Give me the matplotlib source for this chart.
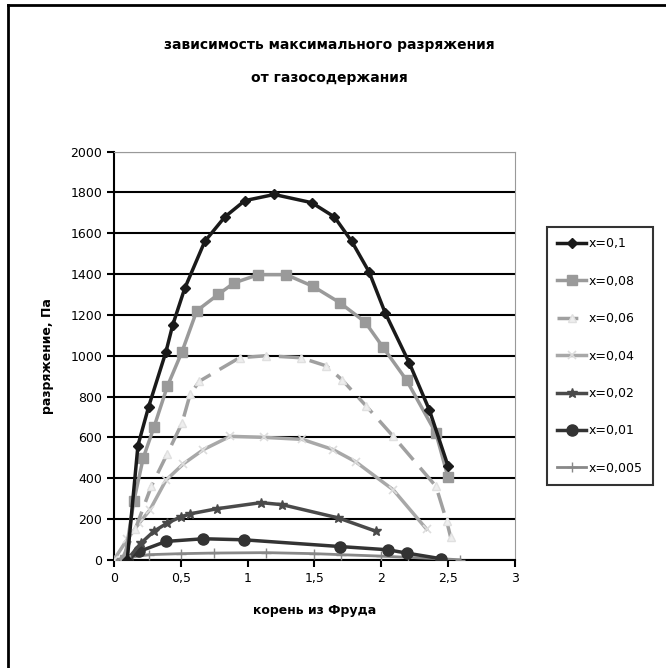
import matplotlib.pyplot as plt
from matplotlib.lines import Line2D

# data: x = корень из Фруда, y = разряжение
x_01 = [0.1, 0.18, 0.26, 0.39, 0.44, 0.53, 0.68, 0.83, 0.98, 1.2, 1.48, 1.65, 1.78, 1.91, 2.03, 2.21, 2.36, 2.5]
y_01 = [0, 560, 750, 1020, 1150, 1330, 1560, 1680, 1760, 1790, 1750, 1680, 1560, 1410, 1210, 965, 735, 460]

x_008 = [0.08, 0.15, 0.22, 0.3, 0.4, 0.51, 0.62, 0.78, 0.9, 1.08, 1.29, 1.49, 1.69, 1.88, 2.01, 2.19, 2.41, 2.5]
y_008 = [0, 290, 500, 650, 850, 1020, 1220, 1300, 1357, 1397, 1397, 1340, 1260, 1165, 1045, 880, 620, 405]

x_006 = [0.06, 0.16, 0.28, 0.4, 0.51, 0.57, 0.64, 0.94, 1.14, 1.4, 1.59, 1.71, 1.89, 2.09, 2.41, 2.49, 2.52]
y_006 = [0, 150, 360, 520, 670, 810, 875, 990, 1000, 990, 950, 880, 752, 605, 360, 190, 110]

x_004 = [0.0, 0.1, 0.19, 0.27, 0.39, 0.52, 0.67, 0.87, 1.12, 1.41, 1.64, 1.81, 2.09, 2.34]
y_004 = [0, 100, 180, 245, 390, 470, 540, 605, 600, 590, 540, 480, 343, 150]

x_002 = [0.1, 0.2, 0.3, 0.4, 0.5, 0.57, 0.77, 1.1, 1.26, 1.68, 1.96]
y_002 = [0, 80, 140, 180, 210, 225, 250, 280, 270, 205, 140]

x_001 = [0.1, 0.19, 0.39, 0.67, 0.97, 1.69, 2.05, 2.19, 2.45]
y_001 = [0, 41, 90, 103, 98, 65, 49, 33, 5]

x_0005 = [0.0, 0.26, 0.5, 0.75, 1.14, 1.5, 1.7, 2.0, 2.2, 2.45, 2.59]
y_0005 = [0, 25, 30, 33, 35, 30, 25, 18, 12, 5, 0]

labels = ['x=0,1', 'x=0,08', 'x=0,06', 'x=0,04', 'x=0,02', 'x=0,01', 'x=0,005']

fig = plt.figure(figsize=(6.66, 6.68), dpi=100)
ax = fig.add_axes([0.171, 0.162, 0.602, 0.611])

# outer chart frame (only top and left edges visible)
fig.add_artist(Line2D([0.012, 1.0], [0.992, 0.992], color='black', lw=2, transform=fig.transFigure))
fig.add_artist(Line2D([0.012, 0.012], [0.0, 0.992], color='black', lw=2, transform=fig.transFigure))

ax.plot(x_01, y_01, color='#1a1a1a', lw=2.5, marker='D', ms=5.5, label=labels[0], zorder=9)
ax.plot(x_008, y_008, color='#9a9a9a', lw=2.5, marker='s', ms=7, label=labels[1], zorder=8)
ax.plot(x_006, y_006, color='#a0a0a0', lw=2.5, ls=(0, (6, 3)), marker='^', ms=6,
        mfc='#eeeeee', mec='#e0e0e0', label=labels[2], zorder=7)
ax.plot(x_004, y_004, color='#a8a8a8', lw=2.5, marker='x', ms=6, mec='#dddddd',
        mew=1.2, label=labels[3], zorder=6)
ax.plot(x_002, y_002, color='#4a4a4a', lw=2.5, marker='*', ms=7, label=labels[4], zorder=5)
ax.plot(x_001, y_001, color='#333333', lw=2.5, marker='o', ms=8, label=labels[5], zorder=4)
ax.plot(x_0005, y_0005, color='#888888', lw=2, marker='+', ms=7, label=labels[6], zorder=3)

ax.set_xlim(0, 3)
ax.set_ylim(0, 2000)
ax.set_xticks([0, 0.5, 1, 1.5, 2, 2.5, 3])
ax.set_xticklabels(['0', '0,5', '1', '1,5', '2', '2,5', '3'])
ax.set_yticks(range(0, 2001, 200))
ax.yaxis.grid(True, color='black', lw=1.5)
ax.set_axisbelow(True)
ax.tick_params(direction='out', length=5, width=1.5, labelsize=9)

ax.spines['left'].set_linewidth(1.5)
ax.spines['bottom'].set_linewidth(1.5)
ax.spines['top'].set_color('#999999')
ax.spines['right'].set_color('#999999')

ax.set_xlabel('корень из Фруда', fontsize=9, fontweight='bold', labelpad=14)
ax.set_ylabel('разряжение, Па', fontsize=9, fontweight='bold', labelpad=12)

fig.text(0.495, 0.932, 'зависимость максимального разряжения', ha='center', va='center',
         fontsize=10, fontweight='bold')
fig.text(0.495, 0.883, 'от газосодержания', ha='center', va='center',
         fontsize=10, fontweight='bold')

leg = ax.legend(loc='center left', bbox_to_anchor=(0.822, 0.467), bbox_transform=fig.transFigure,
                frameon=True, fancybox=False, fontsize=9, labelspacing=1.95,
                handlelength=2.3, handletextpad=0.2, borderpad=0.8, borderaxespad=0)
leg.get_frame().set_edgecolor('black')
leg.get_frame().set_linewidth(1.5)

fig.savefig('out.png', dpi=100, facecolor='white')
